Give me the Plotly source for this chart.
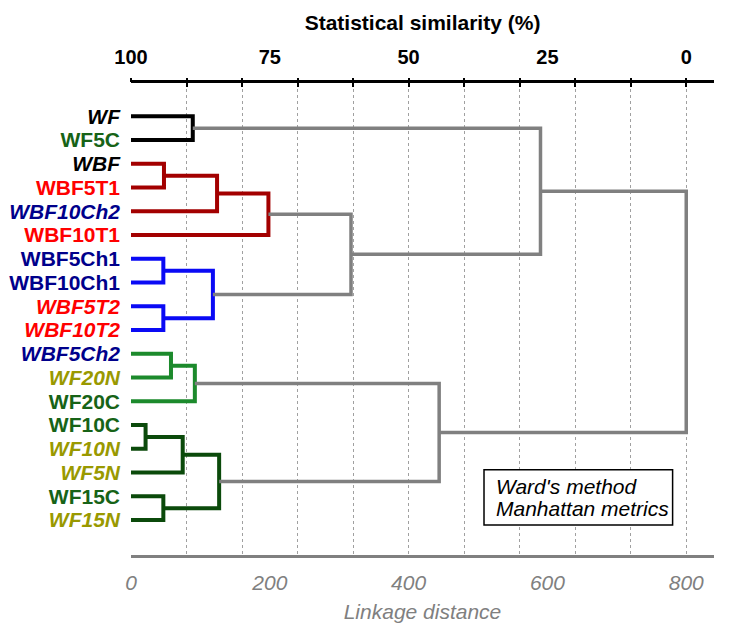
import plotly.graph_objects as go

# ---------------- data ----------------
labels = ["WF", "WF5C", "WBF", "WBF5T1", "WBF10Ch2", "WBF10T1", "WBF5Ch1", "WBF10Ch1",
          "WBF5T2", "WBF10T2", "WBF5Ch2", "WF20N", "WF20C", "WF10C", "WF10N", "WF5N",
          "WF15C", "WF15N"]
label_colors = ["#000000", "#176317", "#000000", "#FF0000", "#00008B", "#FF0000",
                "#00008B", "#00008B", "#FF0000", "#FF0000", "#00008B", "#999900",
                "#176317", "#176317", "#999900", "#999900", "#176317", "#999900"]
label_italic = [True, False, True, False, True, False, False, False, True, True,
                True, True, False, False, True, True, False, True]

# merges: node id = len(labels) + index
merge_left = [0, 2, 19, 20, 6, 8, 22, 21, 18, 10, 27, 13, 29, 16, 30, 28, 26]
merge_right = [1, 3, 4, 5, 7, 9, 23, 24, 25, 11, 12, 14, 15, 17, 31, 32, 33]
merge_height = [89, 47.5, 124, 198, 46.6, 46.6, 118, 317, 590, 57.6, 92, 21, 74.5,
                46.6, 127, 444, 800]
merge_color = ["#000000", "#A30000", "#A30000", "#A30000", "#0A0AF5", "#0A0AF5",
               "#0A0AF5", "#808080", "#808080", "#1C8A2C", "#1C8A2C", "#0B4A0B",
               "#0B4A0B", "#0B4A0B", "#0B4A0B", "#808080", "#808080"]

bottom_tick_vals = [0, 200, 400, 600, 800]
bottom_tick_text = ["0", "200", "400", "600", "800"]
top_tick_text = ["100", "75", "50", "25", "0"]
top_minor_vals = [0, 80, 160, 240, 320, 400, 480, 560, 640, 720, 800]
grid_vals = [80, 160, 240, 320, 400, 480, 560, 640, 720, 800]

X_RANGE = [0, 840]
FONT = "Liberation Sans, Arial, sans-serif"

# ---------------- figure ----------------
pos = {i: float(i) for i in range(len(labels))}
hgt = {i: 0.0 for i in range(len(labels))}
fig = go.Figure()
n = len(labels)

# empty helper traces so the overlaid top axes get drawn (no visible marks)
for ax, vals in (("x2", bottom_tick_vals), ("x3", grid_vals),
                 ("x4", top_minor_vals), ("x5", top_minor_vals)):
    fig.add_trace(go.Scatter(x=vals, y=[None] * len(vals), xaxis=ax, yaxis="y",
                             mode="lines", hoverinfo="skip", showlegend=False))

for k, (l, r, h, c) in enumerate(zip(merge_left, merge_right, merge_height, merge_color)):
    node = n + k
    pos[node] = (pos[l] + pos[r]) / 2
    hgt[node] = h
    width = 3.5 if c == "#808080" else 4
    fig.add_trace(go.Scatter(
        x=[hgt[l], h, h, hgt[r]], y=[pos[l], pos[l], pos[r], pos[r]],
        mode="lines", line=dict(color=c, width=width), hoverinfo="skip",
        showlegend=False))

ticktext = []
for t, c, it in zip(labels, label_colors, label_italic):
    s = f"<b>{t}</b>"
    if it:
        s = f"<i>{s}</i>"
    ticktext.append(f'<span style="color:{c}">{s}</span>')

common = dict(range=X_RANGE, zeroline=False, fixedrange=True, automargin=False)

fig.update_layout(
    width=728, height=617,
    margin=dict(l=123, r=22, t=75, b=70, autoexpand=False),
    plot_bgcolor="white", paper_bgcolor="white",
    font=dict(family=FONT, size=20, color="black"),
    xaxis=dict(**common, side="bottom", tickvals=bottom_tick_vals,
               ticktext=[f"<i>{t}</i>" for t in bottom_tick_text],
               tickfont=dict(color="#808080", size=21), ticks="",
               showline=True, linecolor="#808080", linewidth=3, showgrid=False,
               ticklabelstandoff=7,
               title=dict(text="<i>Linkage distance</i>", font=dict(color="#808080", size=21),
                          standoff=12)),
    xaxis2=dict(**common, overlaying="x", anchor="y", side="top",
                tickvals=bottom_tick_vals,
                ticktext=[f"<b>{t}</b>" for t in top_tick_text],
                tickfont=dict(size=20, color="black"), ticks="",
                showline=True, linecolor="black", linewidth=3, showgrid=False,
                ticklabelstandoff=8,
                title=dict(text="<b>Statistical similarity (%)</b>", font=dict(size=21),
                           standoff=10)),
    xaxis3=dict(**common, overlaying="x", anchor="y", side="top", tickvals=grid_vals,
                showticklabels=False, ticks="", showline=False, showgrid=True,
                gridcolor="#a0a0a0", gridwidth=1, griddash="dot"),
    xaxis4=dict(**common, overlaying="x", anchor="y", side="top", tickvals=top_minor_vals,
                showticklabels=False, ticks="outside", ticklen=4, tickwidth=2,
                tickcolor="black", showline=False, showgrid=False),
    xaxis5=dict(**common, overlaying="x", anchor="y", side="top", tickvals=top_minor_vals,
                showticklabels=False, ticks="inside", ticklen=4, tickwidth=2,
                tickcolor="black", showline=False, showgrid=False),
    yaxis=dict(range=[18.47, -1.40], tickvals=list(range(n)), ticktext=ticktext,
               tickfont=dict(size=21), ticks="", showgrid=False, zeroline=False,
               showline=False, ticklabelstandoff=10, fixedrange=True, automargin=False),
)

# note box
fig.add_shape(type="rect", xref="paper", yref="paper", x0=0.6055, x1=0.929,
              y0=0.0637, y1=0.1805, line=dict(color="black", width=1.5),
              fillcolor="white", layer="above")
fig.add_annotation(xref="paper", yref="paper", x=0.6226, y=0.1444, xanchor="left",
                   yanchor="middle", text="<i>Ward's method</i>", showarrow=False,
                   font=dict(size=21, color="black"))
fig.add_annotation(xref="paper", yref="paper", x=0.6226, y=0.0977, xanchor="left",
                   yanchor="middle", text="<i>Manhattan metrics</i>", showarrow=False,
                   font=dict(size=21, color="black"))

fig.write_html("out.html")
